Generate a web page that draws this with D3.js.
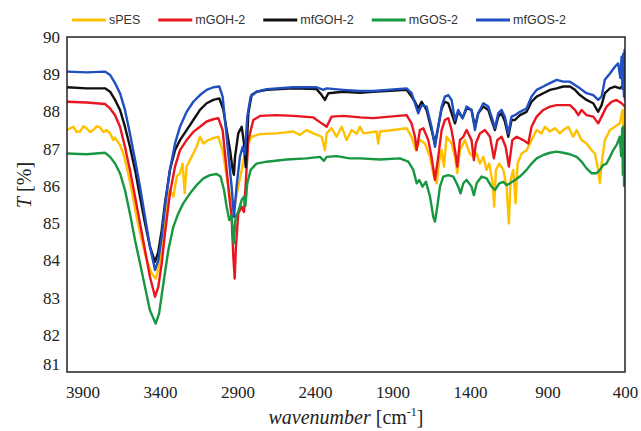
<!DOCTYPE html>
<html>
<head>
<meta charset="utf-8">
<title>FTIR spectra</title>
<script src="https://d3js.org/d3.v7.min.js"></script>
<style>
    body { margin: 0; background: #fff; }
    svg { display: block; }
    .axis text { font-family: "Liberation Serif", "Times New Roman", serif; font-size: 17px; fill: #222; }
    .title { font-family: "Liberation Serif", "Times New Roman", serif; font-size: 20px; fill: #222; }
    .legend text { font-family: "Liberation Sans", Arial, sans-serif; font-size: 12.5px; fill: #333; }
</style>
</head>
<body>
<svg id="chart" width="641" height="431"></svg>
<script>
    // wavenumber [cm-1], transmittance [%]
    const sPES = [[4000,87.5],[3959,87.59],[3938,87.45],[3916,87.46],[3895,87.6],[3873,87.55],[3852,87.45],[3830,87.5],[3808,87.6],[3787,87.57],[3765,87.45],[3744,87.5],[3722,87.41],[3701,87.23],[3690,87.3],[3680,87.23],[3658,87.1],[3637,86.87],[3615,86.52],[3583,85.89],[3551,85.17],[3518,84.54],[3486,84.01],[3454,83.65],[3428,83.51],[3406,83.83],[3385,84.54],[3361,85.35],[3336,85.89],[3314,85.71],[3292,86.25],[3271,86.34],[3254,86.6],[3241,85.8],[3228,86.52],[3196,86.78],[3164,87.05],[3142,87.32],[3120,87.14],[3088,87.23],[3056,87.28],[3024,87.32],[2996,86.96],[2970,86.25],[2948,85.71],[2931,85.35],[2916,85.53],[2895,85.98],[2873,86.43],[2858,86.78],[2841,87.05],[2809,87.32],[2755,87.39],[2648,87.41],[2540,87.46],[2497,87.37],[2454,87.5],[2411,87.41],[2357,87.32],[2336,86.96],[2325,87.41],[2293,87.55],[2261,87.32],[2228,87.59],[2196,87.23],[2164,87.5],[2130,87.4],[2110,87.59],[2088,87.41],[2003,87.46],[1992,87.14],[1981,87.46],[1895,87.5],[1809,87.55],[1777,87.32],[1749,86.96],[1723,87.23],[1691,87.14],[1658,86.78],[1633,86.25],[1615,86.07],[1598,86.69],[1583,86.96],[1568,86.52],[1551,87.32],[1519,87.14],[1497,86.78],[1482,86.34],[1465,86.96],[1433,87.23],[1401,86.87],[1379,86.78],[1357,86.87],[1336,86.6],[1314,86.78],[1293,86.43],[1276,86.6],[1254,86.07],[1244,85.44],[1233,86.43],[1211,86.6],[1185,86.43],[1164,85.98],[1149,84.99],[1138,86.16],[1121,86.43],[1106,85.53],[1093,86.6],[1067,86.87],[1035,86.96],[1003,87.23],[970,87.5],[938,87.41],[917,87.59],[884,87.46],[852,87.55],[820,87.41],[798,87.5],[766,87.59],[734,87.32],[712,87.5],[680,87.23],[648,87.14],[616,86.96],[594,86.87],[573,86.43],[562,86.07],[551,86.6],[530,87.23],[497,87.5],[465,87.59],[433,87.68],[416,88.04],[408,87.4],[400,88.13]];

    const mGOH2 = [[4000,88.26],[3873,88.24],[3755,88.2],[3722,88.08],[3690,87.9],[3658,87.59],[3626,87.05],[3594,86.43],[3561,85.71],[3529,85.0],[3497,84.28],[3465,83.56],[3432,83.02],[3411,83.29],[3389,83.92],[3368,84.72],[3336,85.8],[3303,86.52],[3271,86.96],[3228,87.23],[3185,87.45],[3142,87.59],[3099,87.73],[3056,87.79],[3024,87.82],[2996,87.5],[2974,86.6],[2953,85.71],[2938,85.17],[2927,84.1],[2918,83.51],[2910,84.37],[2895,85.26],[2873,85.44],[2858,85.3],[2845,86.2],[2830,87.23],[2798,87.77],[2755,87.88],[2648,87.9],[2540,87.88],[2411,87.84],[2357,87.68],[2325,87.59],[2293,87.86],[2217,87.88],[2110,87.84],[2024,87.82],[1809,87.9],[1777,87.68],[1755,87.32],[1744,86.96],[1723,87.5],[1701,87.55],[1669,87.23],[1648,86.78],[1626,86.16],[1605,86.78],[1583,87.5],[1562,87.77],[1540,87.82],[1519,87.5],[1497,86.96],[1482,86.52],[1465,87.23],[1443,87.32],[1422,87.5],[1390,87.23],[1375,86.69],[1362,87.14],[1336,87.41],[1304,87.5],[1271,87.32],[1246,86.74],[1224,87.23],[1196,87.32],[1170,87.05],[1149,86.52],[1127,87.23],[1099,87.32],[1057,87.23],[1024,87.14],[1003,87.59],[970,87.86],[927,88.04],[884,88.13],[841,88.17],[798,88.17],[755,88.17],[723,88.04],[701,87.9],[680,88.04],[648,87.9],[605,87.86],[573,87.68],[551,87.86],[519,88.13],[487,88.26],[454,88.31],[422,88.22],[400,88.13]];

    const mfGOH2 = [[4000,88.65],[3873,88.62],[3755,88.62],[3722,88.53],[3690,88.31],[3658,88.04],[3626,87.59],[3594,87.05],[3561,86.43],[3529,85.71],[3497,85.0],[3465,84.37],[3432,83.96],[3411,84.23],[3389,84.81],[3368,85.53],[3336,86.43],[3303,86.96],[3271,87.23],[3228,87.5],[3185,87.77],[3142,88.04],[3099,88.22],[3056,88.31],[3017,88.35],[2991,88.04],[2970,87.5],[2948,86.96],[2931,86.43],[2923,86.3],[2916,86.78],[2895,87.41],[2873,87.59],[2858,87.14],[2847,86.5],[2830,87.95],[2809,88.44],[2777,88.53],[2712,88.58],[2540,88.62],[2390,88.6],[2357,88.44],[2336,88.31],[2314,88.49],[2217,88.53],[2110,88.5],[2024,88.53],[1809,88.58],[1777,88.4],[1755,88.26],[1734,88.08],[1712,88.26],[1680,88.04],[1648,87.5],[1626,87.14],[1605,87.59],[1583,88.08],[1562,88.26],[1540,88.22],[1497,87.68],[1476,88.0],[1448,87.82],[1422,88.08],[1390,88.04],[1368,87.59],[1347,87.95],[1314,88.13],[1282,88.04],[1261,87.77],[1239,87.5],[1218,87.86],[1196,87.95],[1175,87.73],[1153,87.32],[1132,87.77],[1110,87.77],[1078,87.9],[1035,87.99],[1003,88.26],[970,88.4],[927,88.49],[884,88.58],[841,88.62],[798,88.67],[755,88.67],[723,88.58],[691,88.44],[648,88.31],[605,88.22],[573,87.99],[551,88.17],[530,88.49],[497,88.62],[465,88.67],[433,88.62],[411,88.71],[400,88.53]];

    const mGOS2 = [[4000,86.87],[3873,86.85],[3755,86.89],[3722,86.78],[3690,86.6],[3658,86.34],[3626,85.89],[3594,85.26],[3561,84.54],[3529,83.92],[3497,83.29],[3465,82.66],[3428,82.3],[3406,82.57],[3378,83.38],[3346,84.28],[3314,84.9],[3282,85.26],[3250,85.53],[3206,85.8],[3164,86.02],[3120,86.2],[3077,86.29],[3035,86.32],[3009,86.25],[2987,85.89],[2970,85.44],[2953,85.08],[2938,85.21],[2925,84.45],[2912,85.17],[2895,85.3],[2873,85.62],[2858,85.71],[2849,85.46],[2837,86.07],[2815,86.43],[2777,86.6],[2712,86.65],[2583,86.71],[2454,86.74],[2368,86.78],[2342,86.67],[2325,86.78],[2261,86.8],[2175,86.74],[2110,86.74],[1981,86.71],[1852,86.74],[1798,86.65],[1766,86.43],[1744,86.07],[1727,86.16],[1706,85.98],[1684,86.11],[1658,85.71],[1637,85.17],[1626,85.04],[1611,85.44],[1594,85.98],[1572,86.25],[1540,86.29],[1508,86.25],[1476,85.98],[1461,85.8],[1443,86.07],[1422,86.16],[1390,85.98],[1375,85.75],[1357,86.07],[1325,86.25],[1293,86.2],[1261,85.98],[1239,85.89],[1211,86.07],[1185,86.11],[1164,86.02],[1142,86.07],[1110,86.16],[1078,86.25],[1035,86.43],[1003,86.6],[970,86.74],[927,86.83],[884,86.89],[841,86.92],[798,86.89],[755,86.85],[712,86.78],[680,86.65],[648,86.47],[616,86.34],[583,86.34],[562,86.43],[541,86.56],[519,86.6],[497,86.78],[476,86.96],[454,87.1],[433,87.32],[425,86.8],[418,87.55],[414,86.3],[410,87.6],[406,86.0],[403,87.4],[400,86.9]];

    const mfGOS2 = [[4000,89.07],[3873,89.05],[3755,89.07],[3722,88.98],[3690,88.76],[3658,88.49],[3626,88.04],[3594,87.41],[3561,86.7],[3529,85.98],[3497,85.17],[3465,84.37],[3432,83.74],[3411,84.0],[3389,84.63],[3368,85.44],[3336,86.43],[3303,87.14],[3271,87.59],[3228,87.99],[3185,88.26],[3142,88.44],[3099,88.58],[3056,88.65],[3017,88.67],[2996,88.4],[2974,87.5],[2953,86.6],[2938,85.98],[2923,85.17],[2906,85.98],[2884,86.79],[2867,87.05],[2852,86.85],[2837,87.86],[2815,88.4],[2777,88.53],[2712,88.6],[2540,88.65],[2390,88.65],[2346,88.58],[2325,88.62],[2217,88.58],[2110,88.55],[2024,88.55],[1809,88.62],[1777,88.49],[1755,88.22],[1734,87.95],[1712,88.17],[1680,88.13],[1648,87.59],[1626,87.05],[1605,87.59],[1583,88.13],[1562,88.4],[1540,88.44],[1519,88.31],[1497,87.77],[1476,88.04],[1448,87.82],[1422,88.13],[1390,88.04],[1368,87.5],[1347,87.95],[1314,88.22],[1282,88.13],[1261,87.86],[1239,87.55],[1218,87.95],[1196,88.04],[1175,87.86],[1153,87.41],[1132,87.86],[1110,87.9],[1078,87.99],[1035,88.08],[1003,88.4],[970,88.58],[927,88.67],[884,88.76],[841,88.85],[798,88.8],[755,88.8],[723,88.71],[691,88.62],[648,88.49],[605,88.44],[573,88.31],[551,88.4],[530,88.85],[497,89.02],[465,89.2],[444,89.29],[430,88.9],[422,89.47],[416,88.6],[411,89.55],[407,88.4],[403,89.65],[400,88.3]];

    const seriesNames = ["sPES", "mGOH-2", "mfGOH-2", "mGOS-2", "mfGOS-2"];
    const seriesData = [sPES, mGOH2, mfGOH2, mGOS2, mfGOS2];
    const seriesColors = ["#FFC000", "#E8161E", "#111111", "#17973F", "#1F4FC0"];

    const xTicks = [3900, 3400, 2900, 2400, 1900, 1400, 900, 400];
    const yTicks = [81, 82, 83, 84, 85, 86, 87, 88, 89, 90];

    const svg = d3.select("#chart"),
        margin = {top: 37, right: 16, bottom: 59, left: 67},
        width = +svg.attr("width") - margin.left - margin.right,
        height = +svg.attr("height") - margin.top - margin.bottom,
        g = svg.append("g").attr("transform", "translate(" + margin.left + "," + margin.top + ")");

    const x = d3.scaleLinear().domain([4000, 400]).range([0, width]);
    const y = d3.scaleLinear().domain([81, 90]).range([height, 0]);

    g.append("clipPath").attr("id", "plot-clip")
        .append("rect").attr("width", width).attr("height", height);

    const line = d3.line()
        .x(d => x(d[0]))
        .y(d => y(d[1]));

    seriesData.forEach(function(data, i) {
        g.append("path")
            .datum(data)
            .attr("clip-path", "url(#plot-clip)")
            .attr("fill", "none")
            .attr("stroke", seriesColors[i])
            .attr("stroke-width", 2.4)
            .attr("stroke-linejoin", "round")
            .attr("d", line);
    });

    // frame
    g.append("rect")
        .attr("width", width)
        .attr("height", height)
        .attr("fill", "none")
        .attr("stroke", "#222")
        .attr("stroke-width", 1.5);

    g.append("g")
        .attr("class", "axis")
        .attr("transform", "translate(0," + height + ")")
        .call(d3.axisBottom(x).tickValues(xTicks).tickSize(0).tickPadding(14).tickFormat(d3.format("d")))
        .call(a => a.select(".domain").remove());

    const yAxis = g.append("g")
        .attr("class", "axis")
        .call(d3.axisLeft(y).tickValues(yTicks).tickSize(0).tickPadding(7))
        .call(a => a.select(".domain").remove());
    // bottom label sits a bit above the frame corner
    yAxis.selectAll(".tick").filter(d => d === 81).select("text").attr("dy", "-0.15em");

    // axis titles
    const xt = svg.append("text")
        .attr("class", "title")
        .attr("x", margin.left + width / 2)
        .attr("y", 424)
        .attr("text-anchor", "middle");
    xt.append("tspan").attr("font-style", "italic").text("wavenumber");
    xt.append("tspan").text(" [cm");
    xt.append("tspan").attr("font-size", "12px").attr("dy", -8).text("-1");
    xt.append("tspan").attr("dy", 8).text("]");

    const yt = svg.append("text")
        .attr("class", "title")
        .attr("transform", "translate(24,185) rotate(-90)")
        .attr("text-anchor", "middle")
        .attr("dy", "0.35em");
    yt.append("tspan").attr("font-style", "italic").text("T");
    yt.append("tspan").text(" [%]");

    // legend
    const legend = svg.append("g").attr("class", "legend").attr("transform", "translate(72,20)");
    let lx = 0;
    seriesNames.forEach(function(name, i) {
        const item = legend.append("g").attr("transform", "translate(" + lx + ",0)");
        item.append("line")
            .attr("x1", 0).attr("x2", 34)
            .attr("stroke", seriesColors[i])
            .attr("stroke-width", 3);
        const t = item.append("text")
            .attr("x", 37)
            .attr("dy", "0.35em")
            .text(name);
        lx += 37 + t.node().getComputedTextLength() + 18;
    });
</script>
</body>
</html>
